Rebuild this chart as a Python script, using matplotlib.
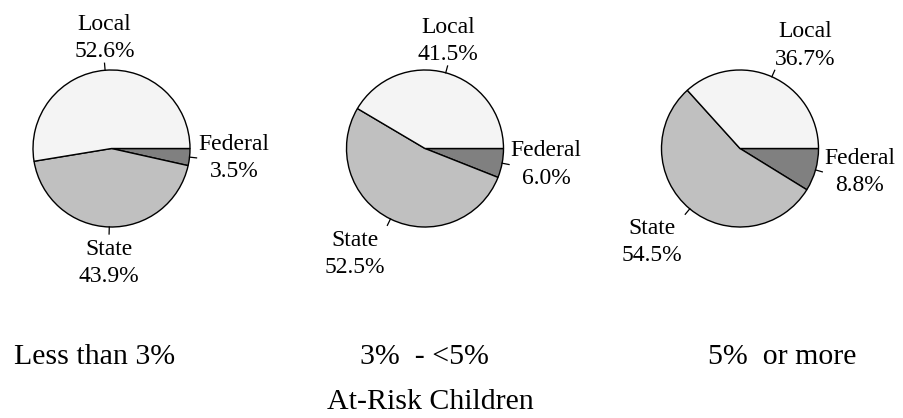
import matplotlib.pyplot as plt
import numpy as np

plt.rcParams['font.family'] = ['Liberation Serif', 'DejaVu Serif']

sources = ['Federal', 'State', 'Local']
colors = ['#808080', '#c0c0c0', '#f4f4f4']
groups = ['Less than 3%', '3%  - <5%', '5%  or more']
federal = [3.5, 6.0, 8.8]
state = [43.9, 52.5, 54.5]
local = [52.6, 41.5, 36.7]
xlabel = 'At-Risk Children'

W, H = 904, 418
fig = plt.figure(figsize=(W / 100, H / 100), dpi=100)
ax = fig.add_axes([0, 0, 1, 1])

centers_x = [111.5, 425, 740]
cy = H - 148.5
r = 78.5

for i in range(3):
    vals = [federal[i], state[i], local[i]]
    wedges, _ = ax.pie(vals, colors=colors, startangle=0, counterclock=False,
                       center=(centers_x[i], cy), radius=r, normalize=True,
                       wedgeprops=dict(edgecolor='black', linewidth=1.0),
                       frame=True)
    cx = centers_x[i]
    for w, name, v in zip(wedges, sources, vals):
        ang = np.deg2rad((w.theta1 + w.theta2) / 2)
        c, s = np.cos(ang), np.sin(ang)
        ax.plot([cx + r * c, cx + 1.09 * r * c], [cy + r * s, cy + 1.09 * r * s],
                color='black', lw=0.9)
        ha = 'left' if c > 0.3 else ('right' if c < -0.3 else 'center')
        va = 'bottom' if s > 0.3 else ('top' if s < -0.3 else 'center')
        tr = 1.1 if va != 'top' else 1.15
        tx = cx + tr * r * c + (1 if ha == 'left' and va == 'center' else 0)
        ty = cy + tr * r * s
        ax.text(tx, ty, f'{name}\n{v:.1f}%', ha=ha, va=va, ma='center',
                fontsize=17, linespacing=1.4)

ax.set_xlim(0, W)
ax.set_ylim(0, H)
ax.set_aspect('equal')
ax.axis('off')

label_x = [95, 424, 782]
for x, g in zip(label_x, groups):
    ax.text(x, H - 357, g, ha='center', va='center', fontsize=21.5)
ax.text(430, H - 402, xlabel, ha='center', va='center', fontsize=21.5)

fig.savefig('out.png', dpi=100)
